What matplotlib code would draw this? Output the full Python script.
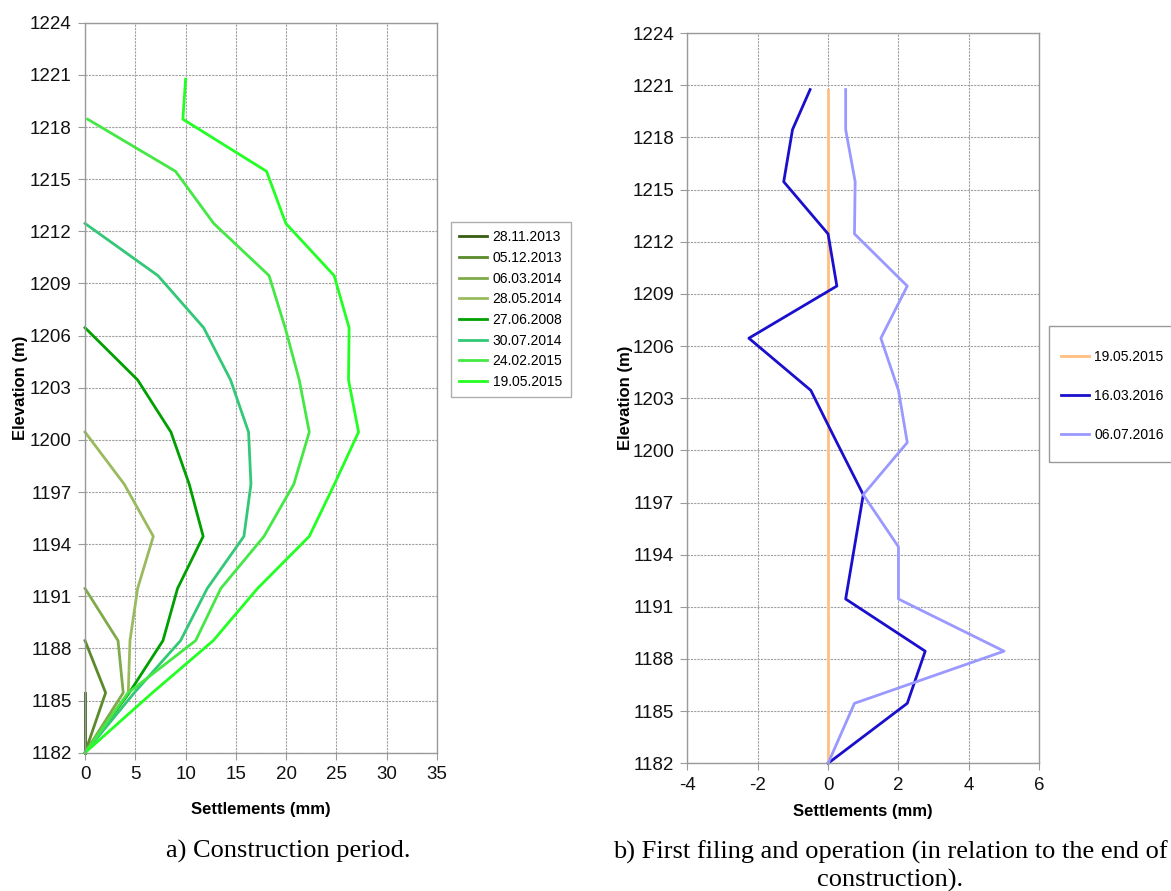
import numpy as np
import matplotlib.pyplot as plt
from matplotlib.patches import Rectangle

plt.rcParams['font.family'] = ['Liberation Sans', 'DejaVu Sans']
plt.rcParams['axes.unicode_minus'] = False

# elevations of the measuring points (m)
elev = [1182, 1185.45, 1188.45, 1191.45, 1194.45, 1197.45, 1200.45,
        1203.45, 1206.45, 1209.45, 1212.45, 1215.45, 1218.45, 1220.75]

# a) construction period, settlements (mm) from the bottom up
con_dates = ["28.11.2013", "05.12.2013", "06.03.2014", "28.05.2014",
             "27.06.2008", "30.07.2014", "24.02.2015", "19.05.2015"]
s_281113 = [0, 0]
s_051213 = [0, 2.05, 0]
s_060314 = [0, 3.8, 3.28, 0]
s_280514 = [0, 4.3, 4.47, 5.23, 6.79, 3.9, 0]
s_270608 = [0, 4.4, 7.75, 9.2, 11.75, 10.36, 8.54, 5.23, 0]
s_300714 = [0, 4.9, 9.5, 12.15, 15.8, 16.5, 16.26, 14.47, 11.8, 7.25, 0]
s_240215 = [0, 4.3, 11.0, 13.5, 17.8, 20.76, 22.3, 21.3, 19.9, 18.3, 12.8, 9.0, 0.26]
s_190515 = [0, 6.7, 12.75, 17.15, 22.3, 24.8, 27.2, 26.2, 26.26, 24.77, 19.97,
            18.05, 9.73, 10.0]
con_series = [s_281113, s_051213, s_060314, s_280514, s_270608, s_300714,
              s_240215, s_190515]
con_colors = ["#355e10", "#5a8a2a", "#7faa4a", "#99bb5e", "#00a000",
              "#33c877", "#44e844", "#22ff22"]

# b) first filling and operation
op_dates = ["19.05.2015", "16.03.2016", "06.07.2016"]
o_190515 = [0] * 14
o_160316 = [0, 2.25, 2.76, 0.5, 0.75, 1.0, 0.25, -0.49, -2.25, 0.25, 0.0,
            -1.26, -1.01, -0.51]
o_060716 = [0, 0.75, 5.0, 2.0, 2.0, 1.0, 2.25, 2.0, 1.5, 2.25, 0.75, 0.77,
            0.5, 0.5]
op_series = [o_190515, o_160316, o_060716]
op_colors = ["#ffbf80", "#1a0fcc", "#9999ff"]

yticks = np.arange(1182, 1225, 3)

fig = plt.figure(figsize=(11.71, 8.91), dpi=100)
ax1 = fig.add_axes([0.0726, 0.1552, 0.3006, 0.8193])
ax2 = fig.add_axes([0.5869, 0.1433, 0.3006, 0.8196])


def style(ax, xlim, xticks, xpad):
    ax.set_xlim(xlim)
    ax.set_ylim(1182, 1224)
    ax.set_xticks(xticks)
    ax.set_yticks(yticks)
    ax.grid(True, color="#a0a0a0", linestyle=(0, (2, 1)), linewidth=0.8)
    ax.set_axisbelow(True)
    for sp in ax.spines.values():
        sp.set_color("#9a9a9a")
        sp.set_linewidth(1.0)
    ax.tick_params(axis="both", direction="out", length=5, color="#9a9a9a",
                   labelsize=13.5, labelcolor="#111111", pad=4.5)
    ax.set_xlabel("Settlements (mm)", fontsize=12, fontweight="bold",
                  labelpad=xpad)
    ax.set_ylabel("Elevation (m)", fontsize=12, fontweight="bold")


for s, c, lab in zip(con_series, con_colors, con_dates):
    ax1.plot(s, elev[:len(s)], color=c, lw=2.0, label=lab, clip_on=False)
style(ax1, (0, 35), np.arange(0, 36, 5), 14)
ax1.yaxis.set_label_coords(-0.162, 0.5)

for s, c, lab in zip(op_series, op_colors, op_dates):
    ax2.plot(s, elev[:len(s)], color=c, lw=2.0, label=lab, clip_on=False)
style(ax2, (-4, 6), np.arange(-4, 7, 2), 7.5)
ax2.yaxis.set_label_coords(-0.153, 0.5)

# legends
lg1 = fig.legend(*ax1.get_legend_handles_labels(), loc="upper left",
                 bbox_to_anchor=(0.385, 0.751), fontsize=10, frameon=True,
                 fancybox=False, edgecolor="#9a9a9a", handlelength=2.0,
                 handletextpad=0.4, labelspacing=0.48, borderpad=0.6,
                 borderaxespad=0)
lg1.get_frame().set_linewidth(1.0)

fig.patches.append(Rectangle((1049 / 1171, 1 - 462 / 891), 0.2, 136 / 891,
                             transform=fig.transFigure, fill=False,
                             edgecolor="#9a9a9a", linewidth=1.0))
fig.legend(*ax2.get_legend_handles_labels(), loc="upper left",
           bbox_to_anchor=(1061 / 1171, 1 - 350 / 891), fontsize=10,
           frameon=False, handlelength=2.0, handletextpad=0.4,
           labelspacing=1.8, borderpad=0, borderaxespad=0)

# captions
fig.text(288 / 1171, 1 - 851 / 891, "a) Construction period.",
         family=["Liberation Serif", "DejaVu Serif"], fontsize=19,
         ha="center", va="center")
fig.text(890 / 1171, 1 - 866 / 891,
         "b) First filing and operation (in relation to the end of\nconstruction).",
         family=["Liberation Serif", "DejaVu Serif"], fontsize=19,
         ha="center", va="center", linespacing=1.3)

fig.savefig("out.png", dpi=100)
